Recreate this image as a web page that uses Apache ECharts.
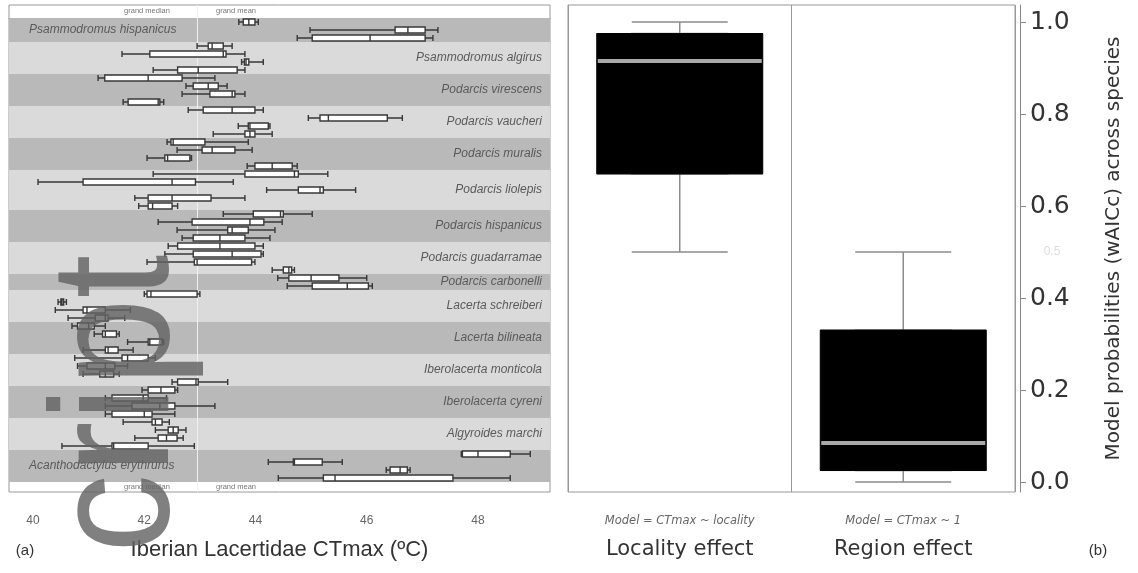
<!DOCTYPE html>
<html><head><meta charset="utf-8">
<script src="https://cdn.jsdelivr.net/npm/echarts@6.0.0/dist/echarts.min.js"></script>
<style>html,body{margin:0;padding:0;background:#fff}#c{width:1138px;height:573px}</style>
</head><body><div id="c"></div>
<script>
// ---------- data: panel (a) ----------
const speciesNames = [
  'Psammodromus hispanicus','Psammodromus algirus','Podarcis virescens','Podarcis vaucheri',
  'Podarcis muralis','Podarcis liolepis','Podarcis hispanicus','Podarcis guadarramae',
  'Podarcis carbonelli','Lacerta schreiberi','Lacerta bilineata','Iberolacerta monticola',
  'Iberolacerta cyreni','Algyroides marchi','Acanthodactylus erythrurus'
];
// [min, Q1, median, Q3, max] CTmax per population
const psamHispanicus = [[43.7,43.78,43.88,43.99,44.05],[44.98,46.51,46.74,47.05,47.28],[44.75,45.02,46.06,47.05,47.19]];
const psamAlgirus = [[42.95,43.15,43.22,43.42,43.58],[41.6,42.1,43.42,43.47,43.81],[43.75,43.8,43.83,43.88,44.14],[42.16,42.6,42.97,43.67,43.81]];
const podVirescens = [[41.17,41.29,42.07,42.68,43.27],[42.75,42.88,43.15,43.33,43.49],[42.68,43.18,43.58,43.63,43.81],[41.62,41.71,42.25,42.28,42.35]];
const podVaucheri = [[42.79,43.06,43.58,43.99,44.14],[44.95,45.16,45.31,46.37,46.64],[43.69,43.87,43.9,44.23,44.26],[43.24,43.81,43.9,43.99,44.3]];
const podMuralis = [[42.41,42.48,42.52,43.09,43.87],[42.59,43.04,43.22,43.63,43.94],[42.05,42.37,42.42,42.82,42.85],[43.85,43.99,44.3,44.66,44.75]];
const podLiolepis = [[42.16,43.81,44.7,44.77,45.3],[40.09,40.9,42.5,42.92,43.6],[44.2,44.77,45.16,45.22,45.8],[41.83,42.07,42.5,43.2,43.81],[41.9,42.07,42.15,42.5,42.6]];
const podHispanicus = [[43.42,43.96,44.45,44.5,45.02],[42.25,42.86,43.9,44.15,44.48],[42.59,43.5,43.58,43.87,44.35],[42.68,42.88,43.36,43.81,44.26]];
const podGuadarramae = [[42.43,42.6,43.36,43.99,44.14],[42.37,42.88,43.58,44.1,44.14],[42.05,42.9,42.95,43.93,43.99],[44.3,44.5,44.6,44.65,44.7]];
const podCarbonelli = [[44.4,44.6,45.0,45.5,46.0],[44.57,45.02,45.65,46.03,46.1]];
const lacSchreiberi = [[42.0,42.05,42.12,42.95,43.0],[40.45,40.5,40.52,40.55,40.6],[40.4,40.9,40.97,41.3,41.75],[40.63,41.12,41.3,41.35,41.65]];
const lacBilineata = [[40.7,40.8,41.0,41.1,41.3],[41.1,41.25,41.3,41.5,41.55],[41.7,42.07,42.1,42.32,42.35],[40.9,41.3,41.35,41.53,41.8]];
const iberoMonticola = [[40.75,41.6,41.7,42.07,42.2],[40.8,40.97,41.3,41.47,41.7],[40.9,41.2,41.3,41.45,41.55],[42.5,42.6,42.93,42.97,43.5]];
const iberoCyreni = [[41.96,42.07,42.3,42.55,42.6],[41.3,41.42,41.98,42.07,42.4],[41.3,41.78,42.28,42.55,43.27],[41.3,41.42,42.0,42.14,42.55]];
const algMarchi = [[41.62,42.14,42.2,42.32,42.45],[42.2,42.43,42.52,42.61,42.75],[41.83,42.25,42.4,42.59,42.7],[40.52,41.42,41.45,42.07,42.9]];
const acanthErythrurus = [[47.7,47.72,48.0,48.58,48.94],[44.23,44.68,44.7,45.2,45.56],[46.35,46.42,46.6,46.73,46.78],[44.41,45.22,45.43,47.55,48.58]];
const grandMedian = 42.95;
const ctmaxTicks = [40, 42, 44, 46, 48];

// ---------- data: panel (b) ----------
const effectCategories = ['Locality effect', 'Region effect'];
const effectModels = ['Model = CTmax ~ locality', 'Model = CTmax ~ 1'];
const effectBoxes = [[0.5, 0.67, 0.915, 0.975, 1.0], [0.0, 0.025, 0.085, 0.33, 0.5]];
const probTicks = [0, 0.2, 0.4, 0.6, 0.8, 1.0];

// ---------- build ----------
const speciesGroups = [psamHispanicus, psamAlgirus, podVirescens, podVaucheri, podMuralis, podLiolepis,
  podHispanicus, podGuadarramae, podCarbonelli, lacSchreiberi, lacBilineata, iberoMonticola,
  iberoCyreni, algMarchi, acanthErythrurus];
const allRows = [].concat(...speciesGroups);
const rowIds = allRows.map((_, i) => 'p' + i);

const bandData = [];
let start = 0;
speciesGroups.forEach((g, i) => {
  const end = start + g.length;
  const leftSide = (i === 0 || i === speciesGroups.length - 1);
  bandData.push([
    { name: speciesNames[i], yAxis: start,
      itemStyle: { color: i % 2 === 0 ? '#b9b9b9' : '#dadada' },
      label: { show: true, position: leftSide ? 'insideLeft' : 'insideRight', distance: leftSide ? 20 : 8,
               color: '#5a5a5a', fontSize: 12, fontStyle: 'italic', fontFamily: 'Liberation Sans', formatter: '{b}' } },
    { yAxis: end }
  ]);
  start = end;
});
// box part only (for the wide black box); the whiskers come from the full stats on an overlaid grid
const effectBoxOnly = effectBoxes.map(b => [b[1], b[1], b[2], b[3], b[3]]);

const XMIN = 39.568, XMAX = 49.295;
const PMIN = -0.0217, PMAX = 1.037;
const RF = 'DejaVu Sans';

const chart = echarts.init(document.getElementById('c'), null, { renderer: 'canvas' });
chart.setOption({
  animation: false,
  backgroundColor: '#fff',
  textStyle: { fontFamily: 'Liberation Sans' },
  grid: [
    { left: 9, right: 588, top: 5, height: 487, show: true, borderColor: '#999', borderWidth: 1, backgroundColor: '#fff', containLabel: false, outerBoundsMode: 'none' },
    { left: 9, right: 588, top: 18, height: 464, containLabel: false, outerBoundsMode: 'none' },
    { left: 568, right: 123, top: 5, height: 487, show: true, borderColor: '#999', borderWidth: 1, containLabel: false, outerBoundsMode: 'none' },
    { left: 568, right: 123, top: 5, height: 487, containLabel: false, outerBoundsMode: 'none' }
  ],
  xAxis: [
    { gridIndex: 0, type: 'value', min: XMIN, max: XMAX, position: 'bottom', offset: 8,
      axisLine: { show: true, lineStyle: { color: '#888' } },
      axisTick: { show: true, customValues: ctmaxTicks, length: 7, lineStyle: { color: '#888' } },
      axisLabel: { show: true, customValues: ctmaxTicks, color: '#666', fontSize: 12, margin: 15 },
      splitLine: { show: false },
      name: 'Iberian Lacertidae CTmax (ºC)', nameLocation: 'middle', nameGap: 39,
      nameTextStyle: { fontSize: 22, color: '#333' } },
    { gridIndex: 1, type: 'value', min: XMIN, max: XMAX, show: false },
    { gridIndex: 2, type: 'category', data: effectCategories,
      axisLine: { show: false }, axisTick: { show: false },
      splitLine: { show: true, lineStyle: { color: '#999', width: 1 } },
      axisLabel: { margin: 19, interval: 0,
        formatter: (v, i) => '{a|' + effectModels[i] + '}\n{b|' + v + '}',
        rich: { a: { fontSize: 11.5, fontStyle: 'italic', color: '#666', lineHeight: 20, fontFamily: RF },
                b: { fontSize: 21, color: '#333', lineHeight: 38, fontFamily: RF } } } },
    { gridIndex: 3, type: 'category', data: effectCategories, show: false }
  ],
  yAxis: [
    { gridIndex: 0, type: 'value', min: -1.625, max: 59.25, inverse: true, show: false },
    { gridIndex: 1, type: 'category', data: rowIds, inverse: true, show: false },
    { gridIndex: 2, type: 'value', position: 'right', min: PMIN, max: PMAX, offset: 5,
      axisLine: { show: true, lineStyle: { color: '#888' } },
      axisTick: { show: true, customValues: probTicks, length: 6, lineStyle: { color: '#888' } },
      axisLabel: { customValues: probTicks, formatter: v => v.toFixed(1), fontSize: 25, color: '#333', margin: 10, fontFamily: RF },
      splitLine: { show: false },
      name: 'Model probabilities (wAICc) across species', nameLocation: 'middle', nameRotate: 90, nameGap: 84,
      nameTextStyle: { fontSize: 20, color: '#333', fontFamily: RF } },
    { gridIndex: 3, type: 'value', min: PMIN, max: PMAX, show: false }
  ],
  series: [
    { type: 'scatter', xAxisIndex: 0, yAxisIndex: 0, data: [], silent: true, z: 1,
      markArea: { silent: true, data: bandData },
      markLine: { silent: true, symbol: 'none', data: [{ xAxis: grandMedian }],
        lineStyle: { color: '#f0f0f0', width: 1, type: 'solid' }, label: { show: false } } },
    { type: 'boxplot', xAxisIndex: 1, yAxisIndex: 1, data: allRows, boxWidth: [6, 6], silent: true, z: 5,
      itemStyle: { color: '#ffffff', borderColor: '#383838', borderWidth: 1.4 } },
    // whiskers with narrow caps (overlaid grid)
    { type: 'boxplot', xAxisIndex: 3, yAxisIndex: 3, data: effectBoxes, boxWidth: [96, 96], silent: true, z: 4,
      itemStyle: { color: '#000', borderColor: '#8c8c8c', borderWidth: 1.5 } },
    // wide black box
    { type: 'boxplot', xAxisIndex: 2, yAxisIndex: 2, data: effectBoxOnly, boxWidth: [166, 166], silent: true, z: 5,
      itemStyle: { color: '#000', borderColor: '#000', borderWidth: 1 } },
    { type: 'scatter', xAxisIndex: 2, yAxisIndex: 2, silent: true, z: 8,
      data: effectBoxes.map((b, i) => [effectCategories[i], b[2]]),
      symbol: 'rect', symbolSize: [164, 4], itemStyle: { color: '#d2d2d2' } }
  ],
  graphic: [
    { type: 'text', x: 147, y: 11, style: { text: 'grand median', fontSize: 7.5, fill: '#777', textAlign: 'center', textVerticalAlign: 'middle', verticalAlign: 'middle' } },
    { type: 'text', x: 236, y: 11, style: { text: 'grand mean', fontSize: 7.5, fill: '#777', textAlign: 'center', textVerticalAlign: 'middle', verticalAlign: 'middle' } },
    { type: 'text', x: 147, y: 487, style: { text: 'grand median', fontSize: 7.5, fill: '#777', textAlign: 'center', textVerticalAlign: 'middle', verticalAlign: 'middle' } },
    { type: 'text', x: 236, y: 487, style: { text: 'grand mean', fontSize: 7.5, fill: '#777', textAlign: 'center', textVerticalAlign: 'middle', verticalAlign: 'middle' } },
    { type: 'text', x: 25, y: 551, style: { text: '(a)', fontSize: 15, fill: '#333', textAlign: 'center', textVerticalAlign: 'middle', verticalAlign: 'middle' } },
    { type: 'text', x: 1098, y: 551, style: { text: '(b)', fontSize: 15, fill: '#333', textAlign: 'center', textVerticalAlign: 'middle', verticalAlign: 'middle' } },
    { type: 'text', x: 1052, y: 252, style: { text: '0.5', fontSize: 12, fill: '#dcdcdc', textAlign: 'center', textVerticalAlign: 'middle', verticalAlign: 'middle' } },
    { type: 'text', x: 206, y: 553, rotation: Math.PI / 2, scaleX: 0.94, z: 100,
      style: { text: 'cript', font: '168px "Liberation Sans", Arial, sans-serif', fill: 'rgba(98,98,98,0.81)',
               textAlign: 'left', textVerticalAlign: 'bottom', verticalAlign: 'bottom' } }
  ]
});
</script></body></html>
